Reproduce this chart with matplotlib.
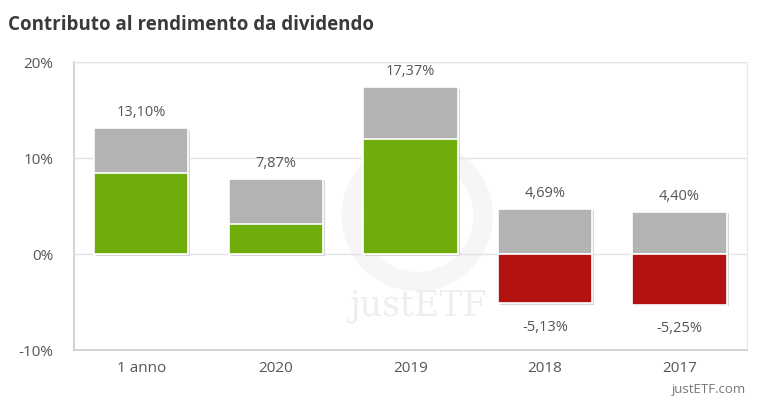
import matplotlib
matplotlib.use("Agg")
import matplotlib.pyplot as plt
import matplotlib.patheffects as pe

plt.rcParams['font.family'] = ['Open Sans', 'DejaVu Sans']

categories = ['1 anno', '2020', '2019', '2018', '2017']
total_return = [13.10, 7.87, 17.37, 4.69, 4.40]
price_return = [8.5, 3.1, 12.0, -5.13, -5.25]

green = '#6fad0b'
red = '#b31212'
grey = '#b3b3b3'

fig = plt.figure(figsize=(7.68, 4.11), dpi=100)
ax = fig.add_axes([0.0964, 0.148, 0.876, 0.701])

x = range(len(categories))
shadow = [pe.SimplePatchShadow(offset=(1.5, -1), shadow_rgbFace='#cccccc', alpha=0.8), pe.Normal()]


def fmt(v):
    return f"{v:.2f}%".replace('.', ',')


for i in x:
    p = price_return[i]
    t = total_return[i]
    ax.bar(i, t, width=0.7, color=grey, edgecolor='white', linewidth=1.2, zorder=3, path_effects=shadow)
    ax.text(i, t + 1.6, fmt(t), ha='center', va='center', fontsize=10.5, color='#555555', zorder=5)
    if p >= 0:
        ax.bar(i, p, width=0.7, color=green, edgecolor='white', linewidth=1.2, zorder=4)
    else:
        ax.bar(i, p, width=0.7, color=red, edgecolor='white', linewidth=1.2, zorder=4, path_effects=shadow)
        ax.text(i, p - 2.5, fmt(p), ha='center', va='center', fontsize=10.5, color='#555555', zorder=5)

ax.set_xlim(-0.5, 4.5)
ax.set_ylim(-10, 20)
ax.set_yticks([-10, 0, 10, 20])
ax.set_yticklabels(['-10%', '0%', '10%', '20%'])
ax.set_xticks(list(x))
ax.set_xticklabels(categories)
ax.tick_params(axis='both', length=0, labelsize=11, colors='#555555')
ax.tick_params(axis='y', pad=15)
ax.tick_params(axis='x', pad=8)
ax.grid(axis='y', color='#e3e3e3', linewidth=1, zorder=0)
for s in ['top', 'right']:
    ax.spines[s].set_color('#e6e6e6')
for s in ['left', 'bottom']:
    ax.spines[s].set_color('#cccccc')
    ax.spines[s].set_linewidth(1.2)

# watermark
ax.scatter([2.05], [4.0], s=9000, facecolors='none', edgecolors='#f6f6f6', linewidths=14, zorder=1)
ax.text(2.06, -5.4, 'justETF', ha='center', va='center', fontsize=25, family='DejaVu Serif',
        color='#eeeeee', zorder=2)

fig.text(0.010, 0.94, 'Contributo al rendimento da dividendo', fontsize=13.5, fontweight='bold',
         color='#3a3a3a', ha='left', va='center')
fig.text(0.972, 0.052, 'justETF.com', fontsize=9.5, color='#777777', ha='right', va='center')

fig.savefig('out.png', dpi=100)
